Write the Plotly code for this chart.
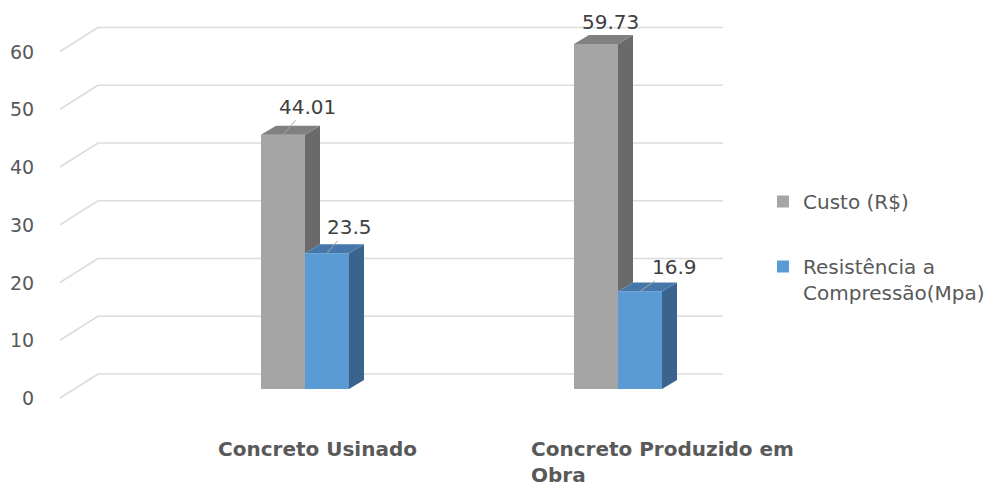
import plotly.graph_objects as go

# ---- data ----
categories = ["Concreto Usinado", "Concreto Produzido em<br>Obra"]
series_names = ["Custo (R$)", "Resistência a<br>Compressão(Mpa)"]
custo = [44.01, 59.73]
resistencia = [23.5, 16.9]
y_ticks = [0, 10, 20, 30, 40, 50, 60]

# ---- geometry of the pseudo-3D frame ----
W, H = 999, 488
PX_X = 313.0        # pixels per category step
PX_Y = 5.775        # pixels per value unit
ORIGIN_X = 305.0    # pixel x of category 0 centre line
ORIGIN_Y = 389.0    # pixel y of value 0 on the bar plane

BAR_W = 44.0 / PX_X                 # bar width in category units
DEPTH_DX, DEPTH_DY = 15.0 / PX_X, 9.0 / PX_Y     # bar depth (receding)
BACK_DX, BACK_DY = 23.75 / PX_X, 15.0 / PX_Y     # bar plane -> back wall
FRONT_DX, FRONT_DY = -14.25 / PX_X, -9.0 / PX_Y  # bar plane -> front edge
WALL_X0 = (98 - ORIGIN_X) / PX_X
WALL_X1 = (723 - ORIGIN_X) / PX_X
TICK_X = (36 - ORIGIN_X) / PX_X

x_range = [-ORIGIN_X / PX_X, (W - ORIGIN_X) / PX_X]
y_range = [-(H - ORIGIN_Y) / PX_Y, ORIGIN_Y / PX_Y]

GRAY, GRAY_TOP, GRAY_SIDE = "#a5a5a5", "#808080", "#6a6a6a"
BLUE, BLUE_TOP, BLUE_SIDE = "#5b9bd5", "#4677ab", "#3a648e"
GRID = "#dcdcdc"
TXT = "#595959"
FONT = "DejaVu Sans"

xs = list(range(len(categories)))
fig = go.Figure()

# front faces
fig.add_trace(go.Bar(x=xs, y=custo, width=BAR_W, offset=-BAR_W, marker=dict(color=GRAY, line=dict(width=0)),
                     name=series_names[0], legendgroup="a", hoverinfo="skip"))
fig.add_trace(go.Bar(x=xs, y=resistencia, width=BAR_W, offset=0, marker=dict(color=BLUE, line=dict(width=0)),
                     name=series_names[1], legendgroup="b", hoverinfo="skip"))


def poly_trace(polys, color):
    px, py = [], []
    for p in polys:
        for (a, b) in p + [p[0]]:
            px.append(a)
            py.append(b)
        px.append(None)
        py.append(None)
    return go.Scatter(x=px, y=py, mode="lines", fill="toself", fillcolor=color,
                      line=dict(width=0, color=color), showlegend=False, hoverinfo="skip")


g_side, g_top, b_side, b_top = [], [], [], []
for i, g, b in zip(xs, custo, resistencia):
    gx0, gx1 = i - BAR_W, i
    bx0, bx1 = i, i + BAR_W
    # grey side face is only visible above the blue bar in front of it
    g_side.append([(gx1, b), (gx1 + DEPTH_DX, b + DEPTH_DY), (gx1 + DEPTH_DX, g + DEPTH_DY), (gx1, g)])
    g_top.append([(gx0, g), (gx1, g), (gx1 + DEPTH_DX, g + DEPTH_DY), (gx0 + DEPTH_DX, g + DEPTH_DY)])
    b_side.append([(bx1, 0), (bx1 + DEPTH_DX, DEPTH_DY), (bx1 + DEPTH_DX, b + DEPTH_DY), (bx1, b)])
    b_top.append([(bx0, b), (bx1, b), (bx1 + DEPTH_DX, b + DEPTH_DY), (bx0 + DEPTH_DX, b + DEPTH_DY)])

fig.add_trace(poly_trace(g_side, GRAY_SIDE))
fig.add_trace(poly_trace(g_top, GRAY_TOP))
fig.add_trace(poly_trace(b_side, BLUE_SIDE))
fig.add_trace(poly_trace(b_top, BLUE_TOP))

# gridlines: slanted side wall edge + back wall line
shapes = []
for t in y_ticks:
    yb = t + BACK_DY
    yf = t + FRONT_DY
    x_front = WALL_X0 - (BACK_DX - FRONT_DX)
    shapes.append(dict(type="line", layer="below", x0=x_front, y0=yf, x1=WALL_X0, y1=yb,
                       line=dict(color=GRID, width=1.5)))
    shapes.append(dict(type="line", layer="below", x0=WALL_X0, y0=yb, x1=WALL_X1, y1=yb,
                       line=dict(color=GRID, width=1.5)))

annotations = []
for t in y_ticks:
    annotations.append(dict(x=TICK_X, y=t + FRONT_DY, text=str(t), showarrow=False, xanchor="right",
                            yanchor="middle", font=dict(family=FONT, size=19, color=TXT)))

# data labels with leader lines (pixel offsets of the label from the bar top)
label_offsets = {"custo": [(24, -28), (14, -22)], "resistencia": [(22, -26), (34, -24)]}
leader = {"custo": [True, False], "resistencia": [True, True]}
for key, vals, off in (("custo", custo, -BAR_W / 2), ("resistencia", resistencia, BAR_W / 2)):
    for i, v in enumerate(vals):
        ax, ay = label_offsets[key][i]
        annotations.append(dict(x=i + off, y=v, text=f"{v:g}", showarrow=True, arrowhead=0,
                                arrowwidth=1, arrowcolor="#a6a6a6" if leader[key][i] else "rgba(0,0,0,0)",
                                ax=ax, ay=ay, standoff=0,
                                font=dict(family=FONT, size=20, color="#404040")))

# category labels
for i, c in enumerate(categories):
    annotations.append(dict(x=i - 0.28, y=(ORIGIN_Y - 436) / PX_Y, text=f"<b>{c}</b>", showarrow=False,
                            xanchor="left", yanchor="top", align="left", borderpad=0,
                            font=dict(family=FONT, size=20, color=TXT)))

fig.update_layout(
    width=W, height=H, margin=dict(l=0, r=0, t=0, b=0),
    paper_bgcolor="white", plot_bgcolor="white",
    barmode="overlay",
    xaxis=dict(range=x_range, visible=False, fixedrange=True),
    yaxis=dict(range=y_range, visible=False, fixedrange=True),
    shapes=shapes, annotations=annotations,
    showlegend=True,
    legend=dict(x=763 / W, y=1 - 182 / H, xanchor="left", yanchor="top", valign="top",
                tracegroupgap=36, bgcolor="rgba(0,0,0,0)",
                font=dict(family=FONT, size=20, color=TXT)),
)

fig.write_html("out.html")
